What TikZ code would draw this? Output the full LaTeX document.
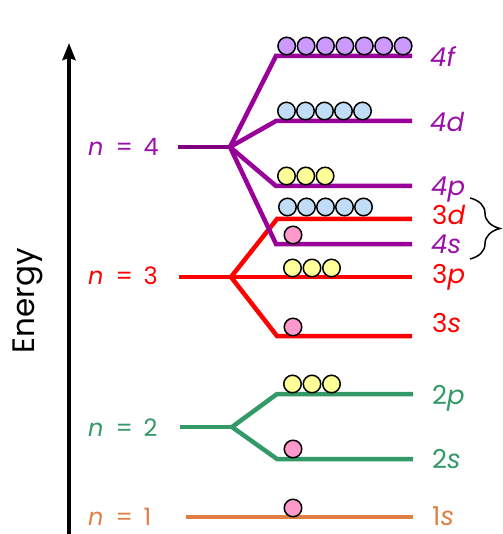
\documentclass[tikz,border=0pt]{standalone}
\usepackage{fontspec}
\setmainfont{Poppins}
\usetikzlibrary{arrows.meta,decorations.pathreplacing}
\definecolor{purp}{HTML}{990099}
\definecolor{dpurp}{HTML}{800080}
\definecolor{ptext}{HTML}{9A0FA8}
\definecolor{redl}{HTML}{FF0000}
\definecolor{grn}{HTML}{339966}
\definecolor{org}{HTML}{DF7F45}
\definecolor{cpurp}{HTML}{CC99FF}
\definecolor{cblue}{HTML}{C0DCF6}
\definecolor{cyel}{HTML}{FFFF99}
\definecolor{cpink}{HTML}{FF99CC}
\begin{document}
\begin{tikzpicture}[x=1pt,y=-1pt,
  level/.style={line width=4.5pt},
  el/.style={circle,draw=black,line width=1.5pt,minimum size=17.5pt,inner sep=0pt},
  nlab/.style={anchor=base west,font=\fontsize{24}{24}\selectfont,inner sep=0pt},
  olab/.style={anchor=base west,font=\fontsize{26}{26}\selectfont,inner sep=0pt}]
\useasboundingbox (0,0) rectangle (502,534);

% energy axis
\coordinate (abot) at (69,534);
\coordinate (atop) at (69,43);
\draw[line width=4pt,-{Stealth[length=17pt,width=13pt,inset=2pt]}] (abot) -- (atop);
\node[rotate=90,font=\fontsize{31}{31}\selectfont,inner sep=0pt] (energy) at (28,301) {Energy};

% n = 4
\coordinate (s4) at (178,147);
\coordinate (b4) at (230,147);
\coordinate (f0) at (276,56);  \coordinate (f1) at (412,56);
\coordinate (d0) at (276,121); \coordinate (d1) at (412,121);
\coordinate (p0) at (276,186); \coordinate (p1) at (412,186);
\coordinate (q0) at (276,244); \coordinate (q1) at (412,244);
\draw[level,dpurp] (s4) -- (b4);
\draw[level,purp] (b4) -- (f0) -- (f1);
\draw[level,purp] (b4) -- (d0) -- (d1);
\draw[level,purp] (b4) -- (p0) -- (p1);

% n = 3
\coordinate (s3) at (179,277);
\coordinate (b3) at (231,277);
\coordinate (t0) at (277,219); \coordinate (t1) at (412,219);
\coordinate (u1) at (412,277);
\coordinate (v0) at (277,336); \coordinate (v1) at (412,336);
\draw[level,redl] (s3) -- (u1);
\draw[level,redl] (b3) -- (t0) -- (t1);
\draw[level,redl] (b3) -- (v0) -- (v1);
\draw[level,purp] (b4) -- (q0) -- (q1);

% n = 2
\coordinate (s2) at (180,427);
\coordinate (b2) at (232,427);
\coordinate (w0) at (277,394); \coordinate (w1) at (413,394);
\coordinate (x0) at (277,459); \coordinate (x1) at (413,459);
\draw[level,grn] (s2) -- (b2);
\draw[level,grn] (b2) -- (w0) -- (w1);
\draw[level,grn] (b2) -- (x0) -- (x1);

% n = 1
\coordinate (s1) at (186,517);
\coordinate (e1) at (413,517);
\draw[level,org] (s1) -- (e1);

% electrons
\foreach \k in {0,...,6} \node[el,fill=cpurp] (ef\k) at (286.7+19.4*\k,46) {};
\foreach \k in {0,...,4} \node[el,fill=cblue] (ed\k) at (286.5+19*\k,111) {};
\foreach \k in {0,...,2} \node[el,fill=cyel] (ep\k) at (286.5+19.3*\k,176) {};
\foreach \k in {0,...,4} \node[el,fill=cblue] (etd\k) at (287.5+19*\k,207) {};
\node[el,fill=cpink] (efs) at (293,235) {};
\foreach \k in {0,...,2} \node[el,fill=cyel] (etp\k) at (292.5+19.5*\k,268) {};
\node[el,fill=cpink] (ets) at (293,327) {};
\foreach \k in {0,...,2} \node[el,fill=cyel] (e2p\k) at (292.5+19.5*\k,384) {};
\node[el,fill=cpink] (e2s) at (293,449) {};
\node[el,fill=cpink] (e1s) at (293,508) {};

% n labels
\node[nlab,text=ptext] (n4) at (88,156) {\textit{n}\hspace{0.5em}=\hspace{0.45em}4};
\node[nlab,text=redl] (n3) at (88,284) {\textit{n}\hspace{0.5em}=\hspace{0.45em}3};
\node[nlab,text=grn] (n2) at (88,436) {\textit{n}\hspace{0.5em}=\hspace{0.45em}2};
\node[nlab,text=org] (n1) at (88,525) {\textit{n}\hspace{0.5em}=\hspace{0.45em}1};

% orbital labels
\node[olab,text=ptext] (l4f) at (430,67) {\textit{4f}};
\node[olab,text=ptext] (l4d) at (430,132) {\textit{4d}};
\node[olab,text=ptext] (l4p) at (431,196) {\textit{4p}};
\node[olab,text=redl] (l3d) at (432,225) {3\textit{d}};
\node[olab,text=ptext] (l4s) at (431,253) {\textit{4s}};
\node[olab,text=redl] (l3p) at (432,283) {3\textit{p}};
\node[olab,text=redl] (l3s) at (432,332) {3\textit{s}};
\node[olab,text=grn] (l2p) at (432,404) {2\textit{p}};
\node[olab,text=grn] (l2s) at (432,468) {2\textit{s}};
\node[olab,text=org] (l1s) at (432,525) {1\textit{s}};

% brace
\coordinate (bt) at (470,198);
\coordinate (bb) at (470,259);
\draw[line width=1.5pt,decorate,decoration={brace,amplitude=30pt,aspect=0.5}] (bt) -- (bb);
\end{tikzpicture}
\end{document}
